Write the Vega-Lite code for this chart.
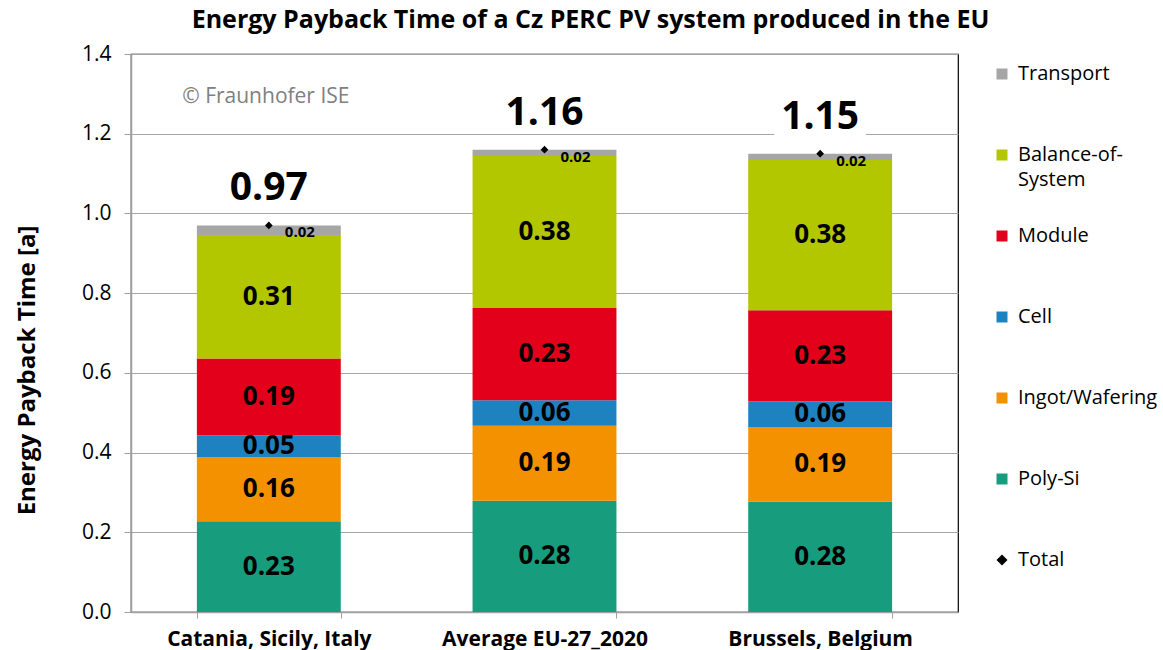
{
  "$schema": "https://vega.github.io/schema/vega-lite/v6.json",
  "autosize": {"type": "none"},
  "width": 827,
  "height": 558,
  "padding": {"left": 131, "top": 54, "right": 205, "bottom": 38},
  "background": "white",
  "config": {
    "font": "Open Sans",
    "view": {"stroke": "black", "strokeWidth": 1.2},
    "style": {"guide-label": {"lineHeight": 25}}
  },
  "title": {
    "text": "Energy Payback Time of a Cz PERC PV system produced in the EU",
    "fontSize": 25,
    "fontWeight": "bold",
    "color": "black",
    "anchor": "middle",
    "frame": "group",
    "dx": 46,
    "offset": 10
  },
  "datasets": {
    "parts": [
      {"site": "Catania, Sicily, Italy", "component": "Poly-Si", "seq": 1, "val": 0.228},
      {"site": "Catania, Sicily, Italy", "component": "Ingot/Wafering", "seq": 2, "val": 0.161},
      {"site": "Catania, Sicily, Italy", "component": "Cell", "seq": 3, "val": 0.054},
      {"site": "Catania, Sicily, Italy", "component": "Module", "seq": 4, "val": 0.193},
      {"site": "Catania, Sicily, Italy", "component": "Balance-of-System", "seq": 5, "val": 0.310},
      {"site": "Catania, Sicily, Italy", "component": "Transport", "seq": 6, "val": 0.024},
      {"site": "Average EU-27_2020", "component": "Poly-Si", "seq": 1, "val": 0.279},
      {"site": "Average EU-27_2020", "component": "Ingot/Wafering", "seq": 2, "val": 0.188},
      {"site": "Average EU-27_2020", "component": "Cell", "seq": 3, "val": 0.064},
      {"site": "Average EU-27_2020", "component": "Module", "seq": 4, "val": 0.232},
      {"site": "Average EU-27_2020", "component": "Balance-of-System", "seq": 5, "val": 0.381},
      {"site": "Average EU-27_2020", "component": "Transport", "seq": 6, "val": 0.016},
      {"site": "Brussels, Belgium", "component": "Poly-Si", "seq": 1, "val": 0.277},
      {"site": "Brussels, Belgium", "component": "Ingot/Wafering", "seq": 2, "val": 0.187},
      {"site": "Brussels, Belgium", "component": "Cell", "seq": 3, "val": 0.064},
      {"site": "Brussels, Belgium", "component": "Module", "seq": 4, "val": 0.229},
      {"site": "Brussels, Belgium", "component": "Balance-of-System", "seq": 5, "val": 0.377},
      {"site": "Brussels, Belgium", "component": "Transport", "seq": 6, "val": 0.016}
    ],
    "totals": [
      {"site": "Catania, Sicily, Italy", "component": "Total", "total": 0.97},
      {"site": "Average EU-27_2020", "component": "Total", "total": 1.16},
      {"site": "Brussels, Belgium", "component": "Total", "total": 1.15}
    ]
  },
  "encoding": {
    "x": {
      "field": "site",
      "type": "nominal",
      "sort": ["Catania, Sicily, Italy", "Average EU-27_2020", "Brussels, Belgium"],
      "scale": {"paddingInner": 0.478, "paddingOuter": 0.239},
      "axis": {
        "title": null,
        "labelAngle": 0,
        "labelFontSize": 21,
        "labelFontWeight": "bold",
        "labelColor": "black",
        "labelPadding": 10,
        "labelLimit": 400,
        "tickBand": "extent",
        "tickSize": 6,
        "tickColor": "#a0a0a0",
        "domainColor": "#a0a0a0",
        "domainWidth": 1.5,
        "grid": false
      }
    }
  },
  "layer": [
    {
      "data": {"name": "parts"},
      "mark": {"type": "bar"},
      "encoding": {
        "y": {
          "field": "val",
          "type": "quantitative",
          "stack": "zero",
          "scale": {"domain": [0, 1.4], "nice": false},
          "axis": {
            "title": "Energy Payback Time [a]",
            "titleFontSize": 24,
            "titleFontWeight": "bold",
            "titleColor": "black",
            "titlePadding": 42,
            "titleY": 316,
            "titleLimit": 600,
            "values": [0, 0.2, 0.4, 0.6, 0.8, 1.0, 1.2, 1.4],
            "format": ".1f",
            "labelFontSize": 21,
            "labelColor": "black",
            "labelPadding": 13,
            "tickSize": 7,
            "tickColor": "#a0a0a0",
            "domainColor": "#a0a0a0",
            "domainWidth": 1.5,
            "gridColor": "#a6a6a6",
            "gridWidth": 1.2
          }
        },
        "color": {
          "field": "component",
          "type": "nominal",
          "scale": {
            "domain": ["Transport", "Balance-of-System", "Module", "Cell", "Ingot/Wafering", "Poly-Si", "Total"],
            "range": ["#a6a6a6", "#b3c700", "#e2001a", "#1f82c0", "#f39100", "#179c7d", "#000000"]
          },
          "legend": {
            "title": null,
            "orient": "none",
            "legendX": 861,
            "legendY": 10,
            "padding": 0,
            "labelFontSize": 20,
            "labelColor": "black",
            "labelOffset": 6,
            "symbolSize": 121,
            "rowPadding": 36,
            "labelLimit": 200,
            "labelExpr": "datum.label == 'Balance-of-System' ? ['Balance-of-', 'System'] : [datum.label, '']"
          }
        },
        "order": {"field": "seq", "type": "quantitative"}
      }
    },
    {
      "data": {"name": "parts"},
      "transform": [
        {"stack": "val", "groupby": ["site"], "sort": [{"field": "seq"}], "as": ["y0", "y1"]},
        {"filter": "datum.component != 'Transport'"},
        {"fold": ["y0", "y1"], "as": ["edge", "pos"]},
        {"aggregate": [{"op": "mean", "field": "pos", "as": "mid"}], "groupby": ["site", "component", "val"]}
      ],
      "mark": {"type": "text", "fontSize": 26, "fontWeight": "bold", "color": "black", "baseline": "middle"},
      "encoding": {
        "y": {"field": "mid", "type": "quantitative"},
        "text": {"field": "val", "type": "quantitative", "format": ".2f"}
      }
    },
    {
      "data": {"name": "totals"},
      "mark": {"type": "point", "shape": "M-1,-0.45L1,-0.45L1,0.45L-1,0.45Z", "filled": true, "fill": "white", "opacity": 1, "size": 8400, "yOffset": -37},
      "encoding": {
        "y": {"field": "total", "type": "quantitative"}
      }
    },
    {
      "data": {"name": "totals"},
      "mark": {"type": "text", "fontSize": 39, "fontWeight": "bold", "color": "black", "baseline": "middle", "dy": -37},
      "encoding": {
        "y": {"field": "total", "type": "quantitative"},
        "text": {"field": "total", "type": "quantitative", "format": ".2f"}
      }
    },
    {
      "data": {"name": "totals"},
      "mark": {"type": "point", "filled": true, "size": 60, "opacity": 1},
      "encoding": {
        "y": {"field": "total", "type": "quantitative"},
        "color": {"field": "component", "type": "nominal"},
        "shape": {
          "field": "component",
          "type": "nominal",
          "scale": {
            "domain": ["Transport", "Balance-of-System", "Module", "Cell", "Ingot/Wafering", "Poly-Si", "Total"],
            "range": ["square", "square", "square", "square", "square", "square", "diamond"]
          }
        }
      }
    },
    {
      "data": {"name": "parts"},
      "transform": [
        {"stack": "val", "groupby": ["site"], "sort": [{"field": "seq"}], "as": ["y0", "y1"]},
        {"filter": "datum.component == 'Transport'"}
      ],
      "mark": {"type": "text", "fontSize": 15, "fontWeight": "bold", "color": "black", "baseline": "middle", "dx": 31, "dy": 7},
      "encoding": {
        "y": {"field": "y1", "type": "quantitative"},
        "text": {"field": "val", "type": "quantitative", "format": ".2f"}
      }
    },
    {
      "data": {"values": [{"note": "© Fraunhofer ISE"}]},
      "mark": {"type": "text", "fontSize": 21, "color": "#808080", "baseline": "middle", "dx": -3},
      "encoding": {
        "x": {"datum": "Catania, Sicily, Italy"},
        "y": {"datum": 1.292},
        "text": {"field": "note", "type": "nominal"}
      }
    }
  ]
}
